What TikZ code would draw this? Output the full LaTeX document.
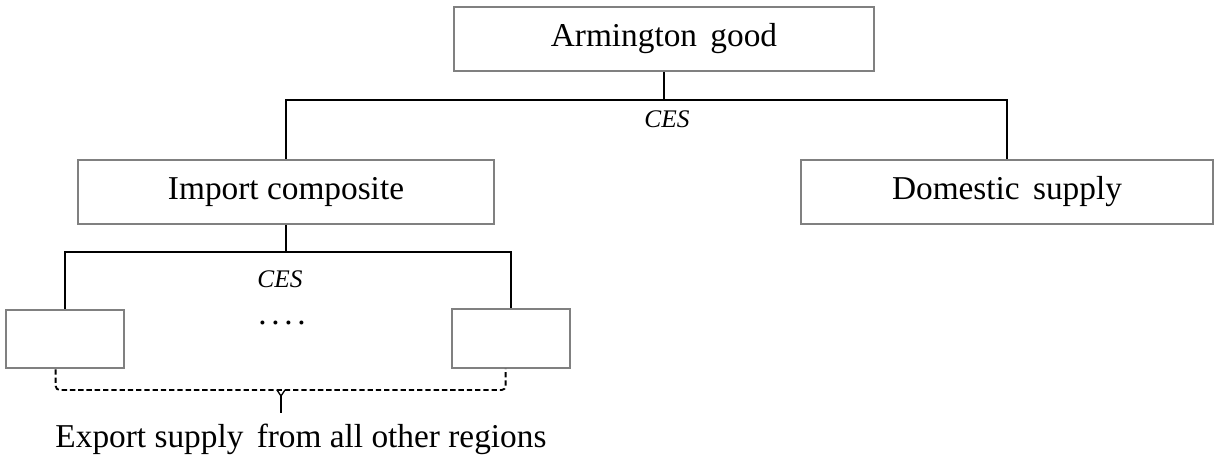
\documentclass[tikz,border=0pt]{standalone}
\usepackage{fontspec}
\setmainfont{Liberation Serif}
\usetikzlibrary{calc}

\begin{document}
\begin{tikzpicture}[x=0.75pt,y=-0.75pt]
        \tikzstyle{good}=[rectangle,draw=gray,line width=1.5pt,inner sep=0pt,font=\fontsize{25}{30}\selectfont]
        \tikzstyle{region}=[good,minimum width=89pt,minimum height=44pt]
        \tikzstyle{tree}=[line width=1.1pt,black]
        \tikzstyle{ces}=[font=\fontsize{19}{23}\selectfont\itshape]
        \tikzstyle{bracket}=[line width=1.4pt,dash pattern=on 4pt off 2.2pt,rounded corners=3pt]
        \useasboundingbox (0,0) rectangle (1216,463);
        % top level
        \node [good,minimum width=315pt,minimum height=48pt] (arm) at (664, 39) {Armington\hspace{0.15em} good};
        \coordinate (split1) at (664, 100);
        \node [ces] (ces1) at (667, 119) {CES};
        \node [good,minimum width=312pt,minimum height=48pt] (imp) at (286, 192) {Import composite};
        \node [good,minimum width=309pt,minimum height=48pt] (dom) at (1007, 192) {Domestic\hspace{0.15em} supply};
        \draw [tree] (arm.south) -- (split1);
        \draw [tree] (imp.north) |- (split1) -| (dom.north);
        % import nest
        \coordinate (split2) at ($(imp.south)+(0,27)$);
        \node [ces] (ces2) at (280, 279) {CES};
        \node [region] (r1) at (65, 339) {};
        \node [region] (rN) at (511, 338.5) {};
        \node [font=\fontsize{25}{30}\selectfont,anchor=base] (dots) at (282, 324) {.\hspace{3.5pt}.\hspace{3.5pt}.\hspace{3.5pt}.};
        \draw [tree] (imp.south) -- (split2);
        \draw [tree] (r1.north) |- (split2) -| (rN.north);
        % export supply bracket
        \node [font=\fontsize{25}{30}\selectfont,anchor=base] (exp) at (301, 447) {Export supply\hspace{0.15em} from all other regions};
        \coordinate (tip) at (281, 390);
        \draw [bracket] ([xshift=-7pt]r1.south) |- (tip) -| ([xshift=-4pt]rN.south);
        \draw [line width=1pt] ($(tip)+(-4,0)$) -- ($(tip)+(0,6)$) -- ($(tip)+(4,0)$);
        \draw [line width=1pt] ($(tip)+(0,6)$) -- ($(tip)+(0,23)$);
\end{tikzpicture}
\end{document}
